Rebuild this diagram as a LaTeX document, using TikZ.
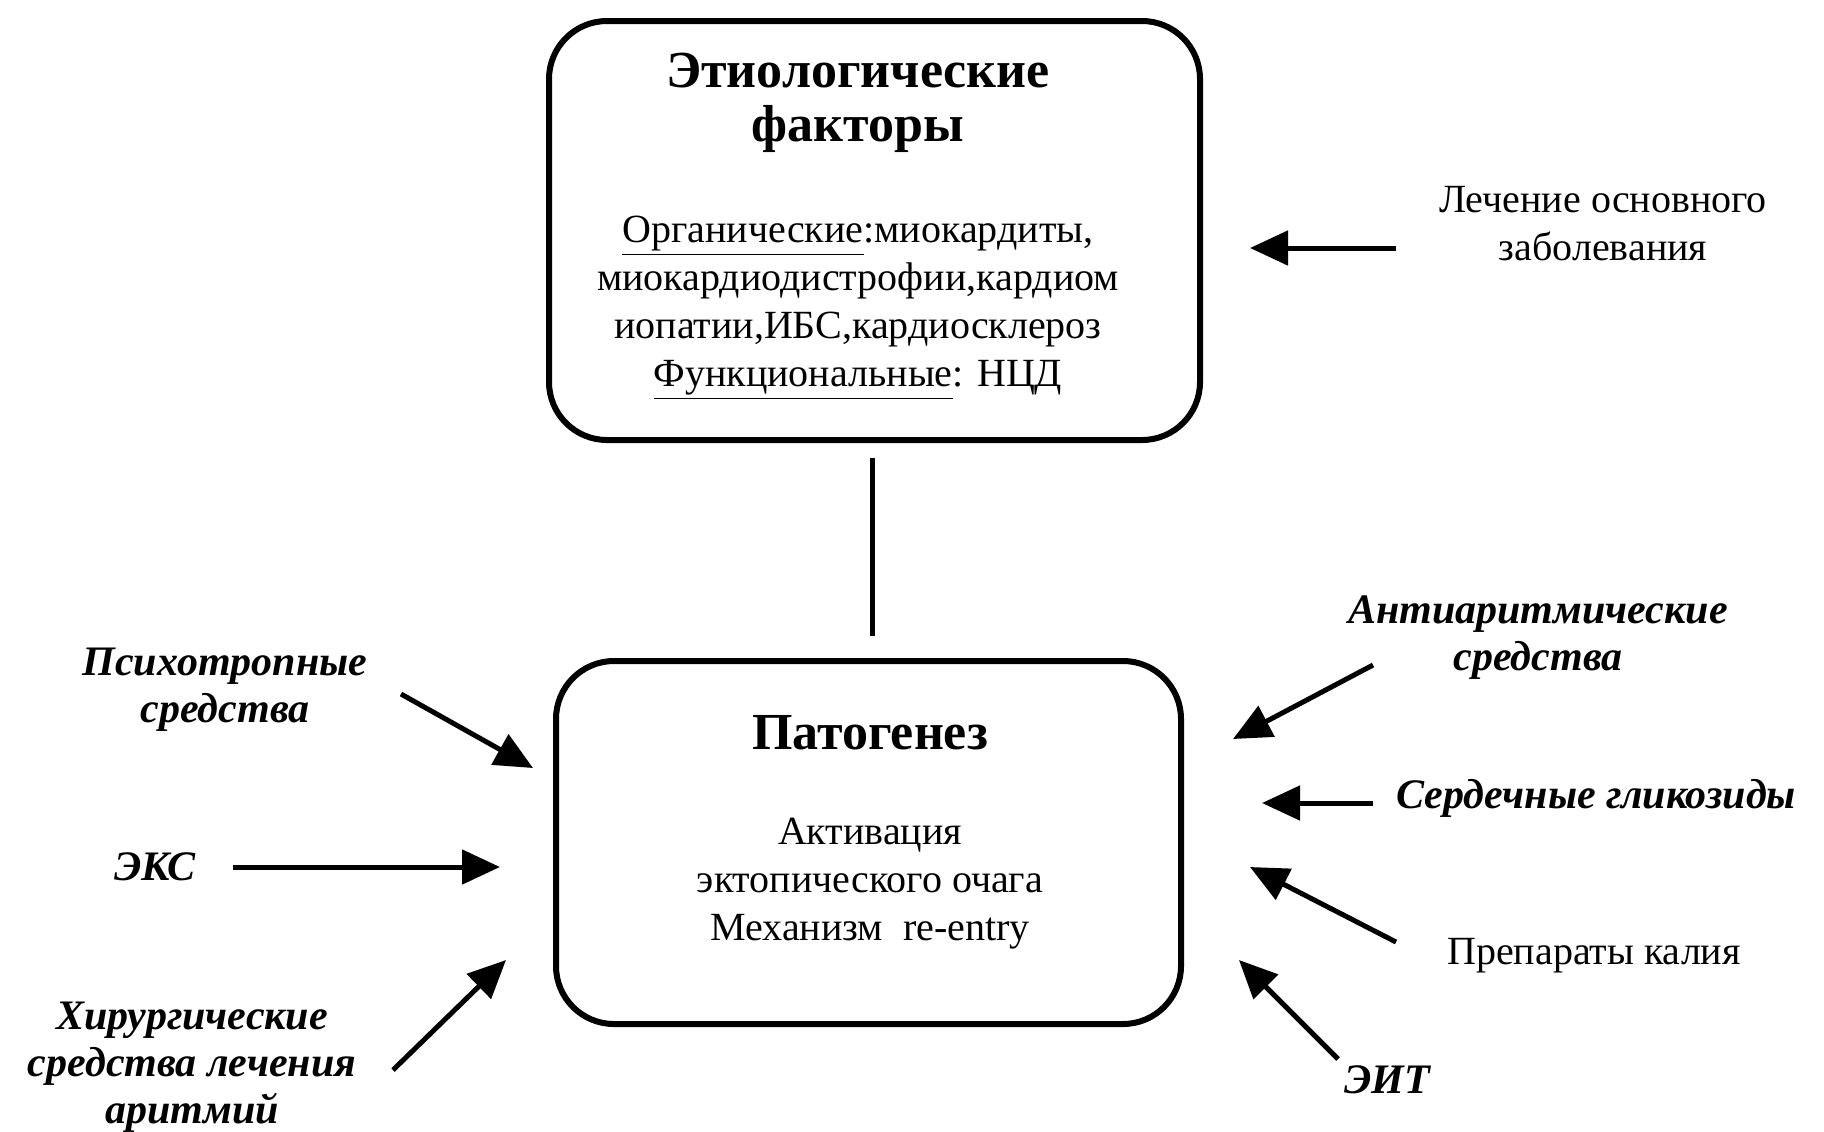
\documentclass[tikz,border=0pt]{standalone}
\usepackage{fontspec}
\setmainfont{Liberation Serif}
\usetikzlibrary{arrows.meta}
\tikzset{
  bigbox/.style={draw=black, line width=3pt, rounded corners=29pt, fill=white},
  body/.style={align=center, inner sep=0pt, font=\fontsize{20}{24}\selectfont},
  title/.style={align=center, inner sep=0pt, font=\fontsize{26}{27}\selectfont\bfseries},
  lab/.style={align=center, inner sep=0pt, font=\fontsize{21}{23.5}\selectfont\bfseries\itshape},
  plainlab/.style={align=center, inner sep=0pt, font=\fontsize{20}{24}\selectfont},
  arr/.style={line width=2.5pt, -{Triangle[length=19pt,width=17pt]}},
  link/.style={line width=2.5pt}
}
\begin{document}
\begin{tikzpicture}[x=0.5pt,y=-0.5pt]
\useasboundingbox[fill=white] (0,0) rectangle (1824,1131);

% boxes
\draw[bigbox] (549,21) rectangle (1200,440);
\draw[bigbox] (556,661) rectangle (1181,1024);
\coordinate (topbot) at (872,458);
\coordinate (bottop) at (872,636);

% top box text
\node[title] (etio) at (858,103) {Этиологические\\факторы};
\node[body] (org) at (858,308) {\underline{Органические}:миокардиты,\\миокардиодистрофии,кардиом\\иопатии,ИБС,кардиосклероз\\\underline{Функциональные}: НЦД};

% bottom box text
\node[title] (pato) at (870,733) {Патогенез};
\node[body] (mech) at (870,884) {Активация\\эктопического очага\\Механизм\ \ re-entry};

\draw[link] (topbot) -- (bottop);

% right side
\node[plainlab] (lech) at (1603,224) {Лечение основного\\заболевания};
\coordinate (lechS) at (1396,248);
\coordinate (lechE) at (1250,248);
\draw[arr] (lechS) -- (lechE);

\node[lab] (anti) at (1538,638) {Антиаритмические\\средства};
\coordinate (antiS) at (1373,665);
\coordinate (antiE) at (1233,739);
\draw[arr] (antiS) -- (antiE);

\node[lab, anchor=west] (serd) at (1396,798) {Сердечные гликозиды};
\coordinate (serdS) at (1373,803);
\coordinate (serdE) at (1262,803);
\draw[arr] (serdS) -- (serdE);

\node[plainlab] (kal) at (1594,956) {Препараты калия};
\coordinate (kalS) at (1396,942);
\coordinate (kalE) at (1250,867);
\draw[arr] (kalS) -- (kalE);

\node[lab] (eit) at (1387,1080) {ЭИТ};
\coordinate (eitS) at (1338,1059);
\coordinate (eitE) at (1239,960);
\draw[arr] (eitS) -- (eitE);

% left side
\node[lab] (psy) at (225,690) {Психотропные\\средства};
\coordinate (psyS) at (401,694);
\coordinate (psyE) at (533,768);
\draw[arr] (psyS) -- (psyE);

\node[lab] (eks) at (155,867) {ЭКС};
\coordinate (eksS) at (233,867);
\coordinate (eksE) at (500,867);
\draw[arr] (eksS) -- (eksE);

\node[lab] (hir) at (192,1067) {Хирургические\\средства лечения\\аритмий};
\coordinate (hirS) at (393,1070);
\coordinate (hirE) at (506,960);
\draw[arr] (hirS) -- (hirE);
\end{tikzpicture}
\end{document}
